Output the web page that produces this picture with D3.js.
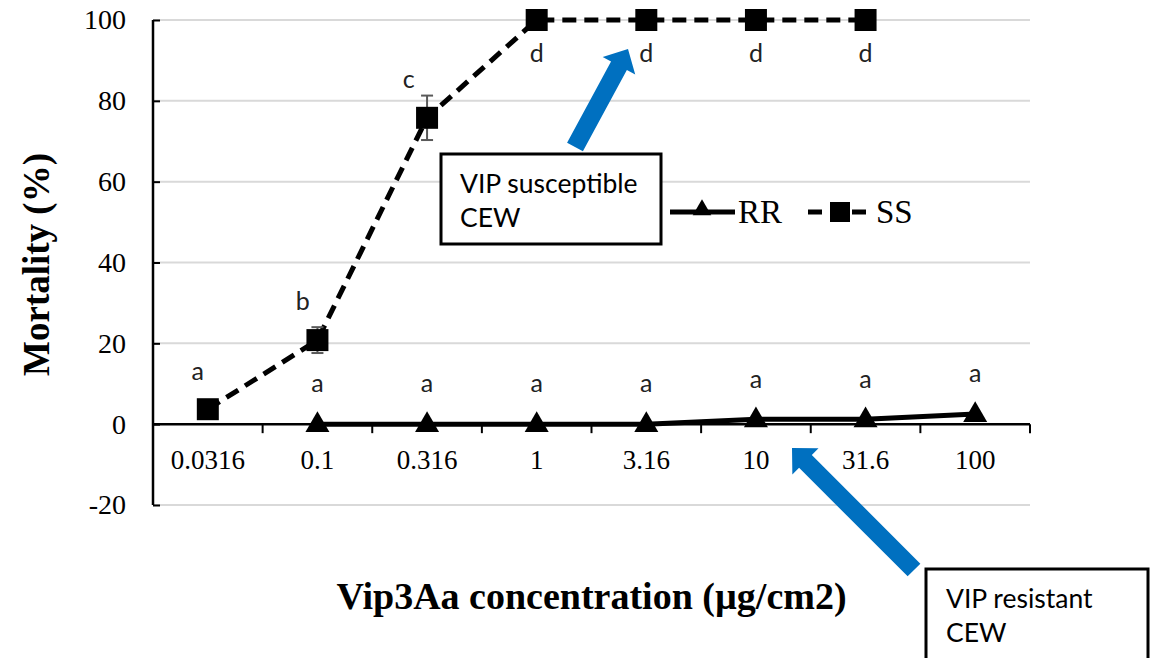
<!DOCTYPE html>
<html>
<head>
<meta charset="utf-8">
<script src="https://cdn.jsdelivr.net/npm/d3@7"></script>
<style>
  body { margin: 0; background: #fff; }
  svg { display: block; }
</style>
</head>
<body>
<div id="chart"></div>
<script>
// chart values
var concentrations = ["0.0316", "0.1", "0.316", "1", "3.16", "10", "31.6", "100"];
var ssMortality = [3.7, 20.8, 75.8, 100, 100, 100, 100, null];
var ssError = [0, 3.2, 5.5, 0, 0, 0, 0, 0];
var ssLetters = ["a", "b", "c", "d", "d", "d", "d", ""];
var rrMortality = [null, 0, 0, 0, 0, 1.2, 1.2, 2.5];
var rrLetters = ["", "a", "a", "a", "a", "a", "a", "a"];
var yTicks = [-20, 0, 20, 40, 60, 80, 100];

var width = 1158;
var height = 658;
var plotLeft = 153, plotRight = 1030, plotTop = 20, plotBottom = 505;

var svg = d3.select("#chart")
    .append("svg")
    .attr("width", width)
    .attr("height", height);

var x = d3.scaleBand()
    .domain(concentrations)
    .range([plotLeft, plotRight])
    .padding(0);

var y = d3.scaleLinear()
    .domain([-20, 100])
    .range([plotBottom, plotTop]);

var cx = function(d) { return x(d) + x.bandwidth() / 2; };
var serif = "'Liberation Serif', 'Times New Roman', serif";

// gridlines
svg.selectAll(".grid")
    .data(yTicks.filter(function(t) { return t !== 0; }))
    .enter()
    .append("line")
    .attr("x1", plotLeft)
    .attr("x2", plotRight)
    .attr("y1", function(d) { return y(d); })
    .attr("y2", function(d) { return y(d); })
    .attr("stroke", "#d9d9d9")
    .attr("stroke-width", 2);

// y axis
var yAxis = svg.append("g")
    .attr("transform", "translate(" + plotLeft + ",0)")
    .call(d3.axisLeft(y).tickValues(yTicks).tickSize(-7).tickPadding(27)
        .tickFormat(function(d) { return String(d); }));
yAxis.select(".domain").attr("stroke", "#000").attr("stroke-width", 2.5)
    .attr("d", "M0," + plotTop + "V" + plotBottom);
yAxis.selectAll(".tick line").attr("stroke", "#000").attr("stroke-width", 2);
yAxis.selectAll("text")
    .style("font-family", serif)
    .style("font-size", "28px")
    .attr("fill", "#000");

// x axis at zero
var xAxis = svg.append("g")
    .attr("transform", "translate(0," + y(0) + ")")
    .call(d3.axisBottom(x).tickSize(0).tickPadding(26));
xAxis.select(".domain").attr("stroke", "#000").attr("stroke-width", 2.5)
    .attr("d", "M" + plotLeft + ",0H" + plotRight);
xAxis.selectAll("text")
    .style("font-family", serif)
    .style("font-size", "27px")
    .attr("fill", "#000");
xAxis.selectAll(".sep")
    .data(concentrations)
    .enter()
    .append("line")
    .attr("x1", function(d) { return x(d) + x.bandwidth(); })
    .attr("x2", function(d) { return x(d) + x.bandwidth(); })
    .attr("y1", 0)
    .attr("y2", 9)
    .attr("stroke", "#000")
    .attr("stroke-width", 2);

// axis titles
svg.append("text")
    .attr("transform", "translate(49," + ((plotTop + plotBottom) / 2 + 2) + ") rotate(-90)")
    .attr("text-anchor", "middle")
    .style("font-family", serif)
    .style("font-weight", "bold")
    .style("font-size", "37px")
    .text("Mortality (%)");

svg.append("text")
    .attr("x", (plotLeft + plotRight) / 2)
    .attr("y", 609)
    .attr("text-anchor", "middle")
    .style("font-family", serif)
    .style("font-weight", "bold")
    .style("font-size", "38px")
    .text("Vip3Aa concentration (\u00b5g/cm2)");

// series lines
var line = d3.line()
    .defined(function(d) { return d.v !== null; })
    .x(function(d) { return cx(d.c); })
    .y(function(d) { return y(d.v); });

var ssData = concentrations.map(function(c, i) {
    return { c: c, v: ssMortality[i], e: ssError[i], l: ssLetters[i] };
});
var rrData = concentrations.map(function(c, i) {
    return { c: c, v: rrMortality[i], l: rrLetters[i] };
});

svg.append("path")
    .datum(rrData)
    .attr("d", line)
    .attr("fill", "none")
    .attr("stroke", "#000")
    .attr("stroke-width", 5);

svg.append("path")
    .datum(ssData)
    .attr("d", line)
    .attr("fill", "none")
    .attr("stroke", "#000")
    .attr("stroke-width", 5)
    .attr("stroke-dasharray", "14,8");

// error bars
var errs = svg.selectAll(".err")
    .data(ssData.filter(function(d) { return d.e > 0; }))
    .enter()
    .append("g")
    .attr("stroke", "#595959")
    .attr("stroke-width", 2);
errs.append("line")
    .attr("x1", function(d) { return cx(d.c); })
    .attr("x2", function(d) { return cx(d.c); })
    .attr("y1", function(d) { return y(d.v + d.e); })
    .attr("y2", function(d) { return y(d.v - d.e); });
errs.append("line")
    .attr("x1", function(d) { return cx(d.c) - 6; })
    .attr("x2", function(d) { return cx(d.c) + 6; })
    .attr("y1", function(d) { return y(d.v + d.e); })
    .attr("y2", function(d) { return y(d.v + d.e); });
errs.append("line")
    .attr("x1", function(d) { return cx(d.c) - 6; })
    .attr("x2", function(d) { return cx(d.c) + 6; })
    .attr("y1", function(d) { return y(d.v - d.e); })
    .attr("y2", function(d) { return y(d.v - d.e); });

// markers
var square = d3.symbol().type(d3.symbolSquare).size(22 * 22);
var triangle = d3.symbol().type(d3.symbolTriangle).size(250);

svg.selectAll(".rr")
    .data(rrData.filter(function(d) { return d.v !== null; }))
    .enter()
    .append("path")
    .attr("d", triangle)
    .attr("transform", function(d) { return "translate(" + cx(d.c) + "," + (y(d.v) + 1) + ")"; })
    .attr("fill", "#000");

svg.selectAll(".ss")
    .data(ssData.filter(function(d) { return d.v !== null; }))
    .enter()
    .append("path")
    .attr("d", square)
    .attr("transform", function(d) { return "translate(" + cx(d.c) + "," + y(d.v) + ")"; })
    .attr("fill", "#000");

// significance letters
var letterFont = "Lato, 'Open Sans', sans-serif";
svg.selectAll(".ssl")
    .data(ssData.filter(function(d) { return d.l !== ""; }))
    .enter()
    .append("text")
    .attr("x", function(d) { return d.v >= 100 ? cx(d.c) : cx(d.c) - 10 - d.e * 1.5; })
    .attr("y", function(d) { return d.v >= 100 ? y(d.v) + 36 : y(d.v) - 36; })
    .attr("text-anchor", "middle")
    .attr("dominant-baseline", "middle")
    .style("font-family", letterFont)
    .style("font-size", "25px")
    .attr("fill", "#222")
    .text(function(d) { return d.l; });

svg.selectAll(".rrl")
    .data(rrData.filter(function(d) { return d.l !== ""; }))
    .enter()
    .append("text")
    .attr("x", function(d) { return cx(d.c); })
    .attr("y", function(d) { return y(d.v) - 38; })
    .attr("text-anchor", "middle")
    .attr("dominant-baseline", "middle")
    .style("font-family", letterFont)
    .style("font-size", "25px")
    .attr("fill", "#222")
    .text(function(d) { return d.l; });

// legend
var legend = svg.append("g");
legend.append("line")
    .attr("x1", 670).attr("x2", 735).attr("y1", 212).attr("y2", 212)
    .attr("stroke", "#000").attr("stroke-width", 5);
legend.append("path")
    .attr("d", d3.symbol().type(d3.symbolTriangle).size(150))
    .attr("transform", "translate(702,210)")
    .attr("fill", "#000");
legend.append("text")
    .attr("x", 738).attr("y", 223)
    .style("font-family", serif)
    .style("font-size", "33px")
    .text("RR");
legend.append("line")
    .attr("x1", 808).attr("x2", 872).attr("y1", 212).attr("y2", 212)
    .attr("stroke", "#000").attr("stroke-width", 5)
    .attr("stroke-dasharray", "14,8");
legend.append("path")
    .attr("d", d3.symbol().type(d3.symbolSquare).size(20 * 20))
    .attr("transform", "translate(840,212)")
    .attr("fill", "#000");
legend.append("text")
    .attr("x", 876).attr("y", 223)
    .style("font-family", serif)
    .style("font-size", "33px")
    .text("SS");

// callout arrows
function arrowPath(tail, tip, shaftW, headW, headL) {
    var dx = tip[0] - tail[0], dy = tip[1] - tail[1];
    var len = Math.sqrt(dx * dx + dy * dy);
    var ux = dx / len, uy = dy / len;
    var px = -uy, py = ux;
    var bx = tip[0] - ux * headL, by = tip[1] - uy * headL;
    var pts = [
        [tail[0] + px * shaftW / 2, tail[1] + py * shaftW / 2],
        [bx + px * shaftW / 2, by + py * shaftW / 2],
        [bx + px * headW / 2, by + py * headW / 2],
        tip,
        [bx - px * headW / 2, by - py * headW / 2],
        [bx - px * shaftW / 2, by - py * shaftW / 2],
        [tail[0] - px * shaftW / 2, tail[1] - py * shaftW / 2]
    ];
    return "M" + pts.map(function(p) { return p.join(","); }).join("L") + "Z";
}

svg.append("path")
    .attr("d", arrowPath([575, 147], [628, 49], 18, 37, 19))
    .attr("fill", "#0070c0");
svg.append("path")
    .attr("d", arrowPath([914, 570], [792, 448], 18, 37, 19))
    .attr("fill", "#0070c0");

// callout boxes
var boxFont = "Lato, 'Open Sans', sans-serif";
svg.append("rect")
    .attr("x", 441).attr("y", 154).attr("width", 220).attr("height", 90)
    .attr("fill", "#fff").attr("stroke", "#000").attr("stroke-width", 3);
svg.append("text")
    .attr("x", 460).attr("y", 193)
    .style("font-family", boxFont).style("font-size", "26.5px")
    .text("VIP susceptible");
svg.append("text")
    .attr("x", 460).attr("y", 227)
    .style("font-family", boxFont).style("font-size", "26.5px")
    .text("CEW");

svg.append("rect")
    .attr("x", 926).attr("y", 569).attr("width", 222).attr("height", 100)
    .attr("fill", "#fff").attr("stroke", "#000").attr("stroke-width", 3);
svg.append("text")
    .attr("x", 946).attr("y", 608)
    .style("font-family", boxFont).style("font-size", "26.5px")
    .text("VIP resistant");
svg.append("text")
    .attr("x", 946).attr("y", 642)
    .style("font-family", boxFont).style("font-size", "26.5px")
    .text("CEW");
</script>
</body>
</html>
